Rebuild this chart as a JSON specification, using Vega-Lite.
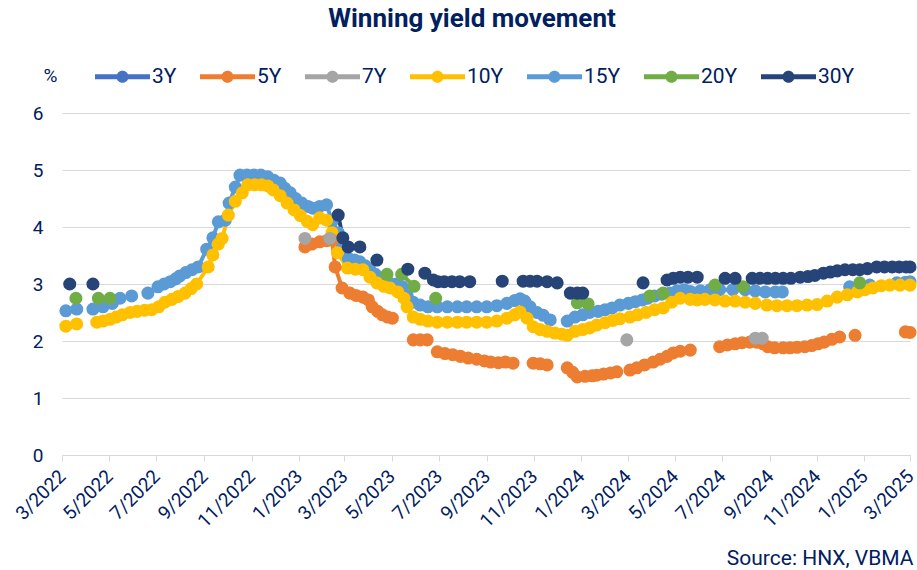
{
  "$schema": "https://vega.github.io/schema/vega-lite/v6.json",
  "width": 848,
  "height": 342,
  "autosize": "none",
  "padding": {"left": 62, "top": 113, "right": 7, "bottom": 115},
  "background": "white",
  "title": {"text": "Winning yield movement", "fontSize": 26, "fontWeight": "bold", "color": "#002060", "font": "Roboto", "anchor": "middle", "dx": -14, "offset": 17},
  "config": {
    "view": {"stroke": null},
    "font": "Roboto"
  },
  "data": {"values": [
    {"s":"15Y","d":"2022-03-06","v":2.53,"g":1},{"s":"15Y","d":"2022-03-20","v":2.56,"g":1},
    {"s":"15Y","d":"2022-04-10","v":2.56,"g":2},{"s":"15Y","d":"2022-04-23","v":2.60,"g":2},{"s":"15Y","d":"2022-05-05","v":2.66,"g":2},{"s":"15Y","d":"2022-05-15","v":2.75,"g":2},{"s":"15Y","d":"2022-05-30","v":2.79,"g":2},
    {"s":"15Y","d":"2022-06-20","v":2.84,"g":3},{"s":"15Y","d":"2022-07-03","v":2.95,"g":3},{"s":"15Y","d":"2022-07-11","v":3.0,"g":3},{"s":"15Y","d":"2022-07-19","v":3.04,"g":3},{"s":"15Y","d":"2022-07-26","v":3.09,"g":3},{"s":"15Y","d":"2022-07-31","v":3.14,"g":3},{"s":"15Y","d":"2022-08-08","v":3.2,"g":3},{"s":"15Y","d":"2022-08-16","v":3.25,"g":3},{"s":"15Y","d":"2022-08-24","v":3.30,"g":3},{"s":"15Y","d":"2022-09-04","v":3.61,"g":3},{"s":"15Y","d":"2022-09-12","v":3.81,"g":3},{"s":"15Y","d":"2022-09-19","v":4.09,"g":3},{"s":"15Y","d":"2022-09-28","v":4.12,"g":3},{"s":"15Y","d":"2022-10-03","v":4.42,"g":3},{"s":"15Y","d":"2022-10-11","v":4.70,"g":3},{"s":"15Y","d":"2022-10-17","v":4.91,"g":3},{"s":"15Y","d":"2022-10-26","v":4.91,"g":3},{"s":"15Y","d":"2022-11-04","v":4.91,"g":3},{"s":"15Y","d":"2022-11-13","v":4.91,"g":3},{"s":"15Y","d":"2022-11-22","v":4.88,"g":3},{"s":"15Y","d":"2022-11-30","v":4.82,"g":3},{"s":"15Y","d":"2022-12-08","v":4.77,"g":3},{"s":"15Y","d":"2022-12-14","v":4.68,"g":3},{"s":"15Y","d":"2022-12-21","v":4.6,"g":3},{"s":"15Y","d":"2022-12-28","v":4.5,"g":3},{"s":"15Y","d":"2023-01-05","v":4.42,"g":3},{"s":"15Y","d":"2023-01-13","v":4.36,"g":3},{"s":"15Y","d":"2023-01-19","v":4.33,"g":3},{"s":"15Y","d":"2023-01-28","v":4.36,"g":3},{"s":"15Y","d":"2023-02-06","v":4.39,"g":3},{"s":"15Y","d":"2023-02-13","v":4.1,"g":3},{"s":"15Y","d":"2023-02-21","v":3.9,"g":3},{"s":"15Y","d":"2023-02-26","v":3.65,"g":3},{"s":"15Y","d":"2023-03-06","v":3.45,"g":3},{"s":"15Y","d":"2023-03-14","v":3.42,"g":3},{"s":"15Y","d":"2023-03-21","v":3.39,"g":3},{"s":"15Y","d":"2023-03-28","v":3.32,"g":3},{"s":"15Y","d":"2023-04-03","v":3.25,"g":3},{"s":"15Y","d":"2023-04-10","v":3.17,"g":3},{"s":"15Y","d":"2023-04-16","v":3.1,"g":3},{"s":"15Y","d":"2023-04-24","v":3.04,"g":3},{"s":"15Y","d":"2023-05-01","v":3.0,"g":3},{"s":"15Y","d":"2023-05-08","v":3.0,"g":3},{"s":"15Y","d":"2023-05-15","v":2.95,"g":3},{"s":"15Y","d":"2023-05-21","v":2.8,"g":3},{"s":"15Y","d":"2023-05-29","v":2.68,"g":3},{"s":"15Y","d":"2023-06-07","v":2.63,"g":3},{"s":"15Y","d":"2023-06-17","v":2.6,"g":3},{"s":"15Y","d":"2023-06-29","v":2.6,"g":3},{"s":"15Y","d":"2023-07-12","v":2.6,"g":3},{"s":"15Y","d":"2023-07-25","v":2.6,"g":3},{"s":"15Y","d":"2023-08-06","v":2.6,"g":3},{"s":"15Y","d":"2023-08-19","v":2.6,"g":3},{"s":"15Y","d":"2023-09-01","v":2.6,"g":3},{"s":"15Y","d":"2023-09-14","v":2.62,"g":3},{"s":"15Y","d":"2023-09-27","v":2.66,"g":3},{"s":"15Y","d":"2023-10-07","v":2.71,"g":3},{"s":"15Y","d":"2023-10-14","v":2.74,"g":3},{"s":"15Y","d":"2023-10-20","v":2.7,"g":3},{"s":"15Y","d":"2023-10-27","v":2.6,"g":3},{"s":"15Y","d":"2023-11-05","v":2.5,"g":3},{"s":"15Y","d":"2023-11-13","v":2.45,"g":3},{"s":"15Y","d":"2023-11-22","v":2.37,"g":3},
    {"s":"15Y","d":"2023-12-14","v":2.35,"g":4},{"s":"15Y","d":"2023-12-24","v":2.42,"g":4},{"s":"15Y","d":"2024-01-03","v":2.46,"g":4},{"s":"15Y","d":"2024-01-12","v":2.5,"g":4},{"s":"15Y","d":"2024-01-23","v":2.52,"g":4},{"s":"15Y","d":"2024-02-01","v":2.55,"g":4},{"s":"15Y","d":"2024-02-10","v":2.58,"g":4},{"s":"15Y","d":"2024-02-20","v":2.63,"g":4},{"s":"15Y","d":"2024-03-02","v":2.66,"g":4},{"s":"15Y","d":"2024-03-11","v":2.69,"g":4},{"s":"15Y","d":"2024-03-20","v":2.72,"g":4},{"s":"15Y","d":"2024-03-27","v":2.75,"g":4},{"s":"15Y","d":"2024-04-05","v":2.79,"g":4},{"s":"15Y","d":"2024-04-14","v":2.82,"g":4},{"s":"15Y","d":"2024-04-25","v":2.84,"g":4},{"s":"15Y","d":"2024-05-04","v":2.88,"g":4},{"s":"15Y","d":"2024-05-13","v":2.9,"g":4},{"s":"15Y","d":"2024-05-21","v":2.87,"g":4},{"s":"15Y","d":"2024-06-03","v":2.88,"g":4},{"s":"15Y","d":"2024-06-16","v":2.9,"g":4},{"s":"15Y","d":"2024-06-28","v":2.9,"g":4},{"s":"15Y","d":"2024-07-15","v":2.9,"g":4},{"s":"15Y","d":"2024-07-31","v":2.9,"g":4},{"s":"15Y","d":"2024-08-13","v":2.88,"g":4},{"s":"15Y","d":"2024-08-26","v":2.86,"g":4},{"s":"15Y","d":"2024-09-08","v":2.86,"g":4},{"s":"15Y","d":"2024-09-17","v":2.86,"g":4},
    {"s":"15Y","d":"2024-12-13","v":2.95,"g":5},{"s":"15Y","d":"2024-12-26","v":2.97,"g":5},{"s":"15Y","d":"2025-01-08","v":2.98,"g":5},
    {"s":"15Y","d":"2025-02-12","v":3.02,"g":6},{"s":"15Y","d":"2025-02-23","v":3.03,"g":6},{"s":"15Y","d":"2025-03-01","v":3.04,"g":6},

    {"s":"10Y","d":"2022-03-06","v":2.26,"g":1},{"s":"10Y","d":"2022-03-20","v":2.30,"g":1},
    {"s":"10Y","d":"2022-04-15","v":2.33,"g":2},{"s":"10Y","d":"2022-04-23","v":2.35,"g":2},{"s":"10Y","d":"2022-05-02","v":2.38,"g":2},{"s":"10Y","d":"2022-05-10","v":2.42,"g":2},{"s":"10Y","d":"2022-05-18","v":2.46,"g":2},{"s":"10Y","d":"2022-05-28","v":2.5,"g":2},{"s":"10Y","d":"2022-06-06","v":2.52,"g":2},{"s":"10Y","d":"2022-06-16","v":2.54,"g":2},{"s":"10Y","d":"2022-06-25","v":2.55,"g":2},{"s":"10Y","d":"2022-07-04","v":2.6,"g":2},{"s":"10Y","d":"2022-07-12","v":2.68,"g":2},{"s":"10Y","d":"2022-07-21","v":2.73,"g":2},{"s":"10Y","d":"2022-07-29","v":2.78,"g":2},{"s":"10Y","d":"2022-08-07","v":2.84,"g":2},{"s":"10Y","d":"2022-08-15","v":2.92,"g":2},{"s":"10Y","d":"2022-08-22","v":3.0,"g":2},{"s":"10Y","d":"2022-09-06","v":3.3,"g":2},{"s":"10Y","d":"2022-09-12","v":3.51,"g":2},{"s":"10Y","d":"2022-09-19","v":3.7,"g":2},{"s":"10Y","d":"2022-09-24","v":3.8,"g":2},{"s":"10Y","d":"2022-10-02","v":4.21,"g":2},{"s":"10Y","d":"2022-10-11","v":4.45,"g":2},{"s":"10Y","d":"2022-10-20","v":4.6,"g":2},{"s":"10Y","d":"2022-10-27","v":4.74,"g":2},{"s":"10Y","d":"2022-11-05","v":4.74,"g":2},{"s":"10Y","d":"2022-11-14","v":4.74,"g":2},{"s":"10Y","d":"2022-11-22","v":4.72,"g":2},{"s":"10Y","d":"2022-11-29","v":4.65,"g":2},{"s":"10Y","d":"2022-12-08","v":4.55,"g":2},{"s":"10Y","d":"2022-12-17","v":4.42,"g":2},{"s":"10Y","d":"2022-12-26","v":4.3,"g":2},{"s":"10Y","d":"2023-01-03","v":4.2,"g":2},{"s":"10Y","d":"2023-01-12","v":4.1,"g":2},{"s":"10Y","d":"2023-01-19","v":4.04,"g":2},{"s":"10Y","d":"2023-01-28","v":4.16,"g":2},{"s":"10Y","d":"2023-02-06","v":4.12,"g":2},{"s":"10Y","d":"2023-02-13","v":3.9,"g":2},{"s":"10Y","d":"2023-02-20","v":3.55,"g":2},{"s":"10Y","d":"2023-03-05","v":3.28,"g":2},{"s":"10Y","d":"2023-03-15","v":3.26,"g":2},{"s":"10Y","d":"2023-03-25","v":3.25,"g":2},{"s":"10Y","d":"2023-04-03","v":3.12,"g":2},{"s":"10Y","d":"2023-04-12","v":3.02,"g":2},{"s":"10Y","d":"2023-04-21","v":2.96,"g":2},{"s":"10Y","d":"2023-04-29","v":2.93,"g":2},{"s":"10Y","d":"2023-05-09","v":2.86,"g":2},{"s":"10Y","d":"2023-05-17","v":2.75,"g":2},{"s":"10Y","d":"2023-05-21","v":2.6,"g":2},{"s":"10Y","d":"2023-05-29","v":2.42,"g":2},{"s":"10Y","d":"2023-06-07","v":2.38,"g":2},{"s":"10Y","d":"2023-06-17","v":2.35,"g":2},{"s":"10Y","d":"2023-06-29","v":2.33,"g":2},{"s":"10Y","d":"2023-07-12","v":2.33,"g":2},{"s":"10Y","d":"2023-07-25","v":2.33,"g":2},{"s":"10Y","d":"2023-08-06","v":2.33,"g":2},{"s":"10Y","d":"2023-08-19","v":2.33,"g":2},{"s":"10Y","d":"2023-09-01","v":2.33,"g":2},{"s":"10Y","d":"2023-09-14","v":2.35,"g":2},{"s":"10Y","d":"2023-09-27","v":2.4,"g":2},{"s":"10Y","d":"2023-10-07","v":2.46,"g":2},{"s":"10Y","d":"2023-10-14","v":2.51,"g":2},{"s":"10Y","d":"2023-10-23","v":2.4,"g":2},{"s":"10Y","d":"2023-10-31","v":2.25,"g":2},{"s":"10Y","d":"2023-11-09","v":2.2,"g":2},{"s":"10Y","d":"2023-11-18","v":2.17,"g":2},{"s":"10Y","d":"2023-11-28","v":2.14,"g":2},{"s":"10Y","d":"2023-12-07","v":2.12,"g":2},{"s":"10Y","d":"2023-12-14","v":2.1,"g":2},{"s":"10Y","d":"2023-12-24","v":2.17,"g":2},{"s":"10Y","d":"2024-01-03","v":2.2,"g":2},{"s":"10Y","d":"2024-01-12","v":2.23,"g":2},{"s":"10Y","d":"2024-01-21","v":2.28,"g":2},{"s":"10Y","d":"2024-02-01","v":2.32,"g":2},{"s":"10Y","d":"2024-02-11","v":2.36,"g":2},{"s":"10Y","d":"2024-02-20","v":2.39,"g":2},{"s":"10Y","d":"2024-03-04","v":2.42,"g":2},{"s":"10Y","d":"2024-03-14","v":2.46,"g":2},{"s":"10Y","d":"2024-03-25","v":2.5,"g":2},{"s":"10Y","d":"2024-04-05","v":2.55,"g":2},{"s":"10Y","d":"2024-04-16","v":2.58,"g":2},{"s":"10Y","d":"2024-04-27","v":2.68,"g":2},{"s":"10Y","d":"2024-05-08","v":2.75,"g":2},{"s":"10Y","d":"2024-05-21","v":2.73,"g":2},{"s":"10Y","d":"2024-05-30","v":2.72,"g":2},{"s":"10Y","d":"2024-06-09","v":2.73,"g":2},{"s":"10Y","d":"2024-06-22","v":2.72,"g":2},{"s":"10Y","d":"2024-07-05","v":2.7,"g":2},{"s":"10Y","d":"2024-07-18","v":2.7,"g":2},{"s":"10Y","d":"2024-07-31","v":2.68,"g":2},{"s":"10Y","d":"2024-08-13","v":2.66,"g":2},{"s":"10Y","d":"2024-08-28","v":2.63,"g":2},{"s":"10Y","d":"2024-09-10","v":2.62,"g":2},{"s":"10Y","d":"2024-09-23","v":2.62,"g":2},{"s":"10Y","d":"2024-10-06","v":2.62,"g":2},{"s":"10Y","d":"2024-10-19","v":2.63,"g":2},{"s":"10Y","d":"2024-11-01","v":2.64,"g":2},{"s":"10Y","d":"2024-11-14","v":2.7,"g":2},{"s":"10Y","d":"2024-11-27","v":2.77,"g":2},{"s":"10Y","d":"2024-12-10","v":2.81,"g":2},{"s":"10Y","d":"2024-12-23","v":2.86,"g":2},{"s":"10Y","d":"2025-01-02","v":2.9,"g":2},{"s":"10Y","d":"2025-01-12","v":2.93,"g":2},{"s":"10Y","d":"2025-01-23","v":2.97,"g":2},{"s":"10Y","d":"2025-02-03","v":2.98,"g":2},{"s":"10Y","d":"2025-02-16","v":2.98,"g":2},{"s":"10Y","d":"2025-03-01","v":2.98,"g":2},

    {"s":"5Y","d":"2023-01-09","v":3.65,"g":1},{"s":"5Y","d":"2023-01-18","v":3.7,"g":1},{"s":"5Y","d":"2023-01-28","v":3.74,"g":1},{"s":"5Y","d":"2023-02-06","v":3.76,"g":1},{"s":"5Y","d":"2023-02-13","v":3.77,"g":1},{"s":"5Y","d":"2023-02-17","v":3.3,"g":1},{"s":"5Y","d":"2023-02-26","v":2.93,"g":1},{"s":"5Y","d":"2023-03-08","v":2.84,"g":1},{"s":"5Y","d":"2023-03-16","v":2.8,"g":1},{"s":"5Y","d":"2023-03-25","v":2.77,"g":1},{"s":"5Y","d":"2023-04-01","v":2.72,"g":1},{"s":"5Y","d":"2023-04-06","v":2.6,"g":1},{"s":"5Y","d":"2023-04-13","v":2.52,"g":1},{"s":"5Y","d":"2023-04-19","v":2.46,"g":1},{"s":"5Y","d":"2023-04-26","v":2.42,"g":1},{"s":"5Y","d":"2023-05-02","v":2.4,"g":1},
    {"s":"5Y","d":"2023-05-29","v":2.02,"g":2},{"s":"5Y","d":"2023-06-07","v":2.02,"g":2},{"s":"5Y","d":"2023-06-16","v":2.02,"g":2},
    {"s":"5Y","d":"2023-06-29","v":1.81,"g":3},{"s":"5Y","d":"2023-07-09","v":1.78,"g":3},{"s":"5Y","d":"2023-07-19","v":1.76,"g":3},{"s":"5Y","d":"2023-07-29","v":1.73,"g":3},{"s":"5Y","d":"2023-08-08","v":1.7,"g":3},{"s":"5Y","d":"2023-08-19","v":1.68,"g":3},{"s":"5Y","d":"2023-08-29","v":1.65,"g":3},{"s":"5Y","d":"2023-09-06","v":1.63,"g":3},{"s":"5Y","d":"2023-09-16","v":1.62,"g":3},{"s":"5Y","d":"2023-09-25","v":1.63,"g":3},{"s":"5Y","d":"2023-10-05","v":1.61,"g":3},
    {"s":"5Y","d":"2023-10-31","v":1.61,"g":4},{"s":"5Y","d":"2023-11-09","v":1.6,"g":4},{"s":"5Y","d":"2023-11-18","v":1.58,"g":4},
    {"s":"5Y","d":"2023-12-14","v":1.53,"g":5},{"s":"5Y","d":"2023-12-21","v":1.45,"g":5},{"s":"5Y","d":"2023-12-27","v":1.37,"g":5},{"s":"5Y","d":"2024-01-06","v":1.38,"g":5},{"s":"5Y","d":"2024-01-15","v":1.39,"g":5},{"s":"5Y","d":"2024-01-21","v":1.4,"g":5},{"s":"5Y","d":"2024-01-30","v":1.42,"g":5},{"s":"5Y","d":"2024-02-08","v":1.44,"g":5},{"s":"5Y","d":"2024-02-16","v":1.46,"g":5},
    {"s":"5Y","d":"2024-03-04","v":1.49,"g":6},{"s":"5Y","d":"2024-03-13","v":1.53,"g":6},{"s":"5Y","d":"2024-03-23","v":1.58,"g":6},{"s":"5Y","d":"2024-04-03","v":1.63,"g":6},{"s":"5Y","d":"2024-04-12","v":1.68,"g":6},{"s":"5Y","d":"2024-04-21","v":1.73,"g":6},{"s":"5Y","d":"2024-04-29","v":1.79,"g":6},{"s":"5Y","d":"2024-05-08","v":1.82,"g":6},{"s":"5Y","d":"2024-05-21","v":1.84,"g":6},
    {"s":"5Y","d":"2024-06-28","v":1.9,"g":7},{"s":"5Y","d":"2024-07-08","v":1.93,"g":7},{"s":"5Y","d":"2024-07-18","v":1.95,"g":7},{"s":"5Y","d":"2024-07-27","v":1.97,"g":7},{"s":"5Y","d":"2024-08-06","v":1.98,"g":7},{"s":"5Y","d":"2024-08-15","v":1.98,"g":7},{"s":"5Y","d":"2024-08-23","v":1.95,"g":7},{"s":"5Y","d":"2024-08-29","v":1.9,"g":7},{"s":"5Y","d":"2024-09-07","v":1.88,"g":7},{"s":"5Y","d":"2024-09-18","v":1.88,"g":7},{"s":"5Y","d":"2024-09-27","v":1.88,"g":7},{"s":"5Y","d":"2024-10-06","v":1.89,"g":7},{"s":"5Y","d":"2024-10-16","v":1.9,"g":7},{"s":"5Y","d":"2024-10-25","v":1.92,"g":7},{"s":"5Y","d":"2024-11-02","v":1.95,"g":7},{"s":"5Y","d":"2024-11-10","v":1.98,"g":7},{"s":"5Y","d":"2024-11-20","v":2.03,"g":7},{"s":"5Y","d":"2024-11-30","v":2.07,"g":7},
    {"s":"5Y","d":"2024-12-20","v":2.1,"g":8},
    {"s":"5Y","d":"2025-02-23","v":2.16,"g":9},{"s":"5Y","d":"2025-03-01","v":2.15,"g":9},

    {"s":"7Y","d":"2023-01-09","v":3.8,"g":1},
    {"s":"7Y","d":"2023-02-10","v":3.8,"g":2},
    {"s":"7Y","d":"2024-02-29","v":2.02,"g":3},
    {"s":"7Y","d":"2024-08-13","v":2.05,"g":4},{"s":"7Y","d":"2024-08-22","v":2.05,"g":4},

    {"s":"20Y","d":"2022-03-19","v":2.75,"g":1},
    {"s":"20Y","d":"2022-04-17","v":2.75,"g":2},{"s":"20Y","d":"2022-05-02","v":2.75,"g":2},
    {"s":"20Y","d":"2023-04-25","v":3.17,"g":3},
    {"s":"20Y","d":"2023-05-14","v":3.17,"g":4},{"s":"20Y","d":"2023-05-30","v":2.96,"g":4},
    {"s":"20Y","d":"2023-06-27","v":2.75,"g":5},
    {"s":"20Y","d":"2023-12-27","v":2.67,"g":6},{"s":"20Y","d":"2024-01-10","v":2.65,"g":6},
    {"s":"20Y","d":"2024-03-30","v":2.79,"g":7},{"s":"20Y","d":"2024-04-16","v":2.84,"g":7},
    {"s":"20Y","d":"2024-06-22","v":2.98,"g":8},
    {"s":"20Y","d":"2024-07-28","v":2.95,"g":9},
    {"s":"20Y","d":"2024-12-26","v":3.02,"g":10},

    {"s":"30Y","d":"2022-03-11","v":3.0,"g":1},
    {"s":"30Y","d":"2022-04-10","v":3.0,"g":2},
    {"s":"30Y","d":"2023-02-21","v":4.21,"g":3},{"s":"30Y","d":"2023-02-27","v":3.81,"g":3},{"s":"30Y","d":"2023-03-06","v":3.65,"g":3},{"s":"30Y","d":"2023-03-21","v":3.65,"g":3},
    {"s":"30Y","d":"2023-04-12","v":3.42,"g":4},
    {"s":"30Y","d":"2023-05-22","v":3.26,"g":5},
    {"s":"30Y","d":"2023-06-13","v":3.19,"g":6},{"s":"30Y","d":"2023-06-24","v":3.07,"g":6},{"s":"30Y","d":"2023-06-30","v":3.04,"g":6},{"s":"30Y","d":"2023-07-08","v":3.04,"g":6},{"s":"30Y","d":"2023-07-18","v":3.04,"g":6},{"s":"30Y","d":"2023-07-28","v":3.04,"g":6},{"s":"30Y","d":"2023-08-10","v":3.04,"g":6},
    {"s":"30Y","d":"2023-09-21","v":3.05,"g":7},
    {"s":"30Y","d":"2023-10-18","v":3.05,"g":8},{"s":"30Y","d":"2023-10-27","v":3.05,"g":8},{"s":"30Y","d":"2023-11-05","v":3.05,"g":8},{"s":"30Y","d":"2023-11-18","v":3.04,"g":8},{"s":"30Y","d":"2023-12-01","v":3.02,"g":8},
    {"s":"30Y","d":"2023-12-18","v":2.84,"g":9},{"s":"30Y","d":"2023-12-27","v":2.84,"g":9},{"s":"30Y","d":"2024-01-03","v":2.84,"g":9},
    {"s":"30Y","d":"2024-03-21","v":3.02,"g":10},
    {"s":"30Y","d":"2024-04-21","v":3.07,"g":11},{"s":"30Y","d":"2024-04-29","v":3.1,"g":11},{"s":"30Y","d":"2024-05-08","v":3.12,"g":11},{"s":"30Y","d":"2024-05-18","v":3.12,"g":11},{"s":"30Y","d":"2024-05-30","v":3.12,"g":11},
    {"s":"30Y","d":"2024-07-05","v":3.1,"g":12},{"s":"30Y","d":"2024-07-18","v":3.1,"g":12},
    {"s":"30Y","d":"2024-08-09","v":3.1,"g":13},{"s":"30Y","d":"2024-08-19","v":3.1,"g":13},{"s":"30Y","d":"2024-08-29","v":3.1,"g":13},{"s":"30Y","d":"2024-09-08","v":3.1,"g":13},{"s":"30Y","d":"2024-09-18","v":3.1,"g":13},{"s":"30Y","d":"2024-09-28","v":3.1,"g":13},{"s":"30Y","d":"2024-10-10","v":3.12,"g":13},{"s":"30Y","d":"2024-10-20","v":3.13,"g":13},{"s":"30Y","d":"2024-10-29","v":3.15,"g":13},{"s":"30Y","d":"2024-11-09","v":3.19,"g":13},{"s":"30Y","d":"2024-11-18","v":3.21,"g":13},{"s":"30Y","d":"2024-11-27","v":3.23,"g":13},{"s":"30Y","d":"2024-12-07","v":3.25,"g":13},{"s":"30Y","d":"2024-12-17","v":3.25,"g":13},{"s":"30Y","d":"2024-12-26","v":3.25,"g":13},{"s":"30Y","d":"2025-01-05","v":3.27,"g":13},{"s":"30Y","d":"2025-01-17","v":3.3,"g":13},{"s":"30Y","d":"2025-01-27","v":3.3,"g":13},{"s":"30Y","d":"2025-02-06","v":3.3,"g":13},{"s":"30Y","d":"2025-02-15","v":3.3,"g":13},{"s":"30Y","d":"2025-02-24","v":3.3,"g":13},{"s":"30Y","d":"2025-03-01","v":3.3,"g":13}
  ]},
  "encoding": {
    "x": {
      "field": "d", "type": "temporal",
      "scale": {"type": "utc", "domain": [{"year": 2022, "month": 3, "date": 1, "utc": true}, {"year": 2025, "month": 3, "date": 1, "utc": true}]},
      "axis": {
        "values": [
          {"year": 2022, "month": 3, "date": 1, "utc": true}, {"year": 2022, "month": 5, "date": 1, "utc": true}, {"year": 2022, "month": 7, "date": 1, "utc": true}, {"year": 2022, "month": 9, "date": 1, "utc": true}, {"year": 2022, "month": 11, "date": 1, "utc": true},
          {"year": 2023, "month": 1, "date": 1, "utc": true}, {"year": 2023, "month": 3, "date": 1, "utc": true}, {"year": 2023, "month": 5, "date": 1, "utc": true}, {"year": 2023, "month": 7, "date": 1, "utc": true}, {"year": 2023, "month": 9, "date": 1, "utc": true}, {"year": 2023, "month": 11, "date": 1, "utc": true},
          {"year": 2024, "month": 1, "date": 1, "utc": true}, {"year": 2024, "month": 3, "date": 1, "utc": true}, {"year": 2024, "month": 5, "date": 1, "utc": true}, {"year": 2024, "month": 7, "date": 1, "utc": true}, {"year": 2024, "month": 9, "date": 1, "utc": true}, {"year": 2024, "month": 11, "date": 1, "utc": true},
          {"year": 2025, "month": 1, "date": 1, "utc": true}, {"year": 2025, "month": 3, "date": 1, "utc": true}
        ],
        "format": "%-m/%Y",
        "labelAngle": -45,
        "labelAlign": "right",
        "labelBaseline": "middle",
        "labelFontSize": 19,
        "labelColor": "#002060",
        "labelPadding": 12,
        "labelDx": 2,
        "labelOverlap": false,
        "labelFlush": false,
        "domainColor": "#D9D9D9",
        "tickColor": "#D9D9D9",
        "tickSize": 6,
        "grid": false,
        "title": "Source: HNX, VBMA",
        "titleFontSize": 21,
        "titleFontWeight": "normal",
        "titleColor": "#002060",
        "titleAlign": "right",
        "titleBaseline": "middle",
        "titleX": 851,
        "titleY": 103
      }
    },
    "y": {
      "field": "v", "type": "quantitative",
      "scale": {"domain": [0, 6]},
      "axis": {
        "values": [0, 1, 2, 3, 4, 5, 6],
        "labelFontSize": 19,
        "labelColor": "#002060",
        "labelPadding": 19,
        "domain": false,
        "ticks": false,
        "gridColor": "#D9D9D9",
        "gridWidth": 1,
        "title": "%",
        "titleAngle": 0,
        "titleX": -12,
        "titleY": -38,
        "titleAlign": "center",
        "titleBaseline": "middle",
        "titleFontSize": 19,
        "titleFontWeight": "normal",
        "titleColor": "#002060"
      }
    },
    "color": {
      "field": "s", "type": "nominal",
      "scale": {
        "domain": ["3Y", "5Y", "7Y", "10Y", "15Y", "20Y", "30Y"],
        "range": ["#4472C4", "#ED7D31", "#A5A5A5", "#FFC000", "#5B9BD5", "#70AD47", "#264478"]
      },
      "legend": {
        "orient": "none",
        "legendX": 33,
        "legendY": -64,
        "direction": "horizontal",
        "columns": 7,
        "title": null,
        "symbolType": "M-1,-0.09L1,-0.09L1,0.09L-1,0.09Z M0.22,0 A0.22,0.22 0 1 1 -0.22,0 A0.22,0.22 0 1 1 0.22,0 Z",
        "symbolSize": 3025,
        "symbolStrokeWidth": 0,
        "labelFontSize": 21,
        "labelColor": "#002060",
        "labelOffset": 2,
        "columnPadding": 23,
        "encode": {"symbols": {"update": {"fill": {"scale": "color", "field": "value"}, "stroke": {"value": "transparent"}, "opacity": {"value": 1}, "fillOpacity": {"value": 1}}}}
      }
    }
  },
  "layer": [
    {
      "mark": {"type": "line", "strokeWidth": 4},
      "encoding": {"detail": {"field": "g", "type": "nominal"}}
    },
    {
      "mark": {"type": "point", "filled": true, "size": 170, "opacity": 1}
    }
  ]
}
